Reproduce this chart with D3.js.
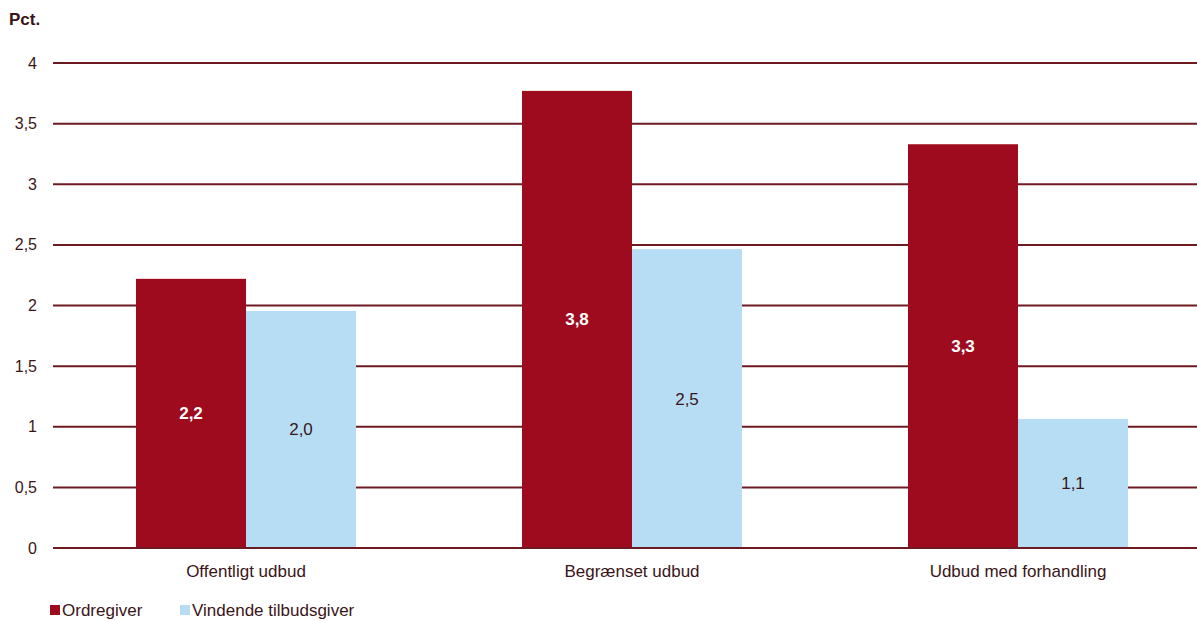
<!DOCTYPE html>
<html>
<head>
<meta charset="utf-8">
<script src="https://cdn.jsdelivr.net/npm/d3@7"></script>
<style>
  body { margin: 0; background: #fff; }
  svg { display: block; font-family: "Liberation Sans", Arial, sans-serif; }
</style>
</head>
<body>
<svg width="1197" height="621"></svg>
<script>
const categories = ["Offentligt udbud", "Begrænset udbud", "Udbud med forhandling"]
const seriesNames = ["Ordregiver", "Vindende tilbudsgiver"]
const ordregiver = [2.22, 3.77, 3.33]
const vindende = [1.955, 2.465, 1.065]
const yTicks = [0, 0.5, 1, 1.5, 2, 2.5, 3, 3.5, 4]

const RED = "#9E0B1E"
const BLUE = "#B6DDF3"
const GRID = "#6E1A22"
const TEXT = "#3A1518"

const svg = d3.select("svg")

const xScale = d3.scaleBand().domain(categories).range([53, 1211]).paddingInner(0).paddingOuter(0)
const xSub = d3.scaleBand().domain(seriesNames).range([0, 220])
const yScale = d3.scaleLinear().domain([0, 4]).range([548, 63])
const colorScale = d3.scaleOrdinal().domain(seriesNames).range([RED, BLUE])
const fmt = v => d3.format(".1f")(v).replace(".", ",")

// gridlines
svg.append("g")
    .selectAll("line")
    .data(yTicks)
    .enter()
    .append("line")
    .attr("x1", 53)
    .attr("x2", 1197)
    .attr("y1", d => yScale(d))
    .attr("y2", d => yScale(d))
    .style("stroke", GRID)
    .style("stroke-width", "2px")

// y tick labels
svg.append("g")
    .selectAll("text")
    .data(yTicks)
    .enter()
    .append("text")
    .attr("x", 37)
    .attr("y", d => yScale(d))
    .attr("dy", "0.35em")
    .style("text-anchor", "end")
    .style("font-size", "16px")
    .style("fill", TEXT)
    .text(d => String(d).replace(".", ","))

svg.append("text")
    .attr("x", 9)
    .attr("y", 25)
    .style("font-size", "17px")
    .style("font-weight", "bold")
    .style("fill", TEXT)
    .text("Pct.")

const rows = categories.map((c, i) => ({
    cat: c,
    values: [
        { name: seriesNames[0], v: ordregiver[i] },
        { name: seriesNames[1], v: vindende[i] }
    ]
}))

svg.selectAll("g.group")
    .data(rows)
    .enter()
    .append("g")
    .attr("class", "group")
    .attr("transform", d => `translate(${xScale(d.cat) + xScale.bandwidth() / 2 - 110},0)`)
    .each(function (d) {
        const g = d3.select(this)
        g.selectAll("rect")
            .data(d.values)
            .enter()
            .append("rect")
            .attr("x", v => xSub(v.name))
            .attr("width", xSub.bandwidth())
            .attr("y", v => yScale(v.v))
            .attr("height", v => yScale(0) - yScale(v.v))
            .style("fill", v => colorScale(v.name))

        g.selectAll("text")
            .data(d.values)
            .enter()
            .append("text")
            .attr("x", v => xSub(v.name) + xSub.bandwidth() / 2)
            .attr("y", v => (yScale(v.v) + yScale(0)) / 2)
            .attr("dy", "0.35em")
            .style("text-anchor", "middle")
            .style("font-size", "17px")
            .style("font-weight", v => v.name === seriesNames[0] ? "bold" : "normal")
            .style("fill", v => v.name === seriesNames[0] ? "#fff" : TEXT)
            .text(v => fmt(v.v))
    })

// base line
svg.append("line")
    .attr("x1", 53)
    .attr("x2", 1197)
    .attr("y1", yScale(0))
    .attr("y2", yScale(0))
    .style("stroke", GRID)
    .style("stroke-width", "2px")

// category labels
svg.append("g")
    .selectAll("text")
    .data(categories)
    .enter()
    .append("text")
    .attr("x", d => xScale(d) + xScale.bandwidth() / 2)
    .attr("y", 577)
    .style("text-anchor", "middle")
    .style("font-size", "17px")
    .style("fill", TEXT)
    .text(d => d)

// legend
const legendX = [50, 180]
const legend = svg.append("g")
    .selectAll("g")
    .data(seriesNames)
    .enter()
    .append("g")
    .attr("transform", (d, i) => `translate(${legendX[i]},605)`)
legend.append("rect")
    .attr("width", 10)
    .attr("height", 10)
    .style("fill", d => colorScale(d))
legend.append("text")
    .attr("x", 12)
    .attr("y", 11)
    .style("font-size", "17px")
    .style("fill", TEXT)
    .text(d => d)
</script>
</body>
</html>
